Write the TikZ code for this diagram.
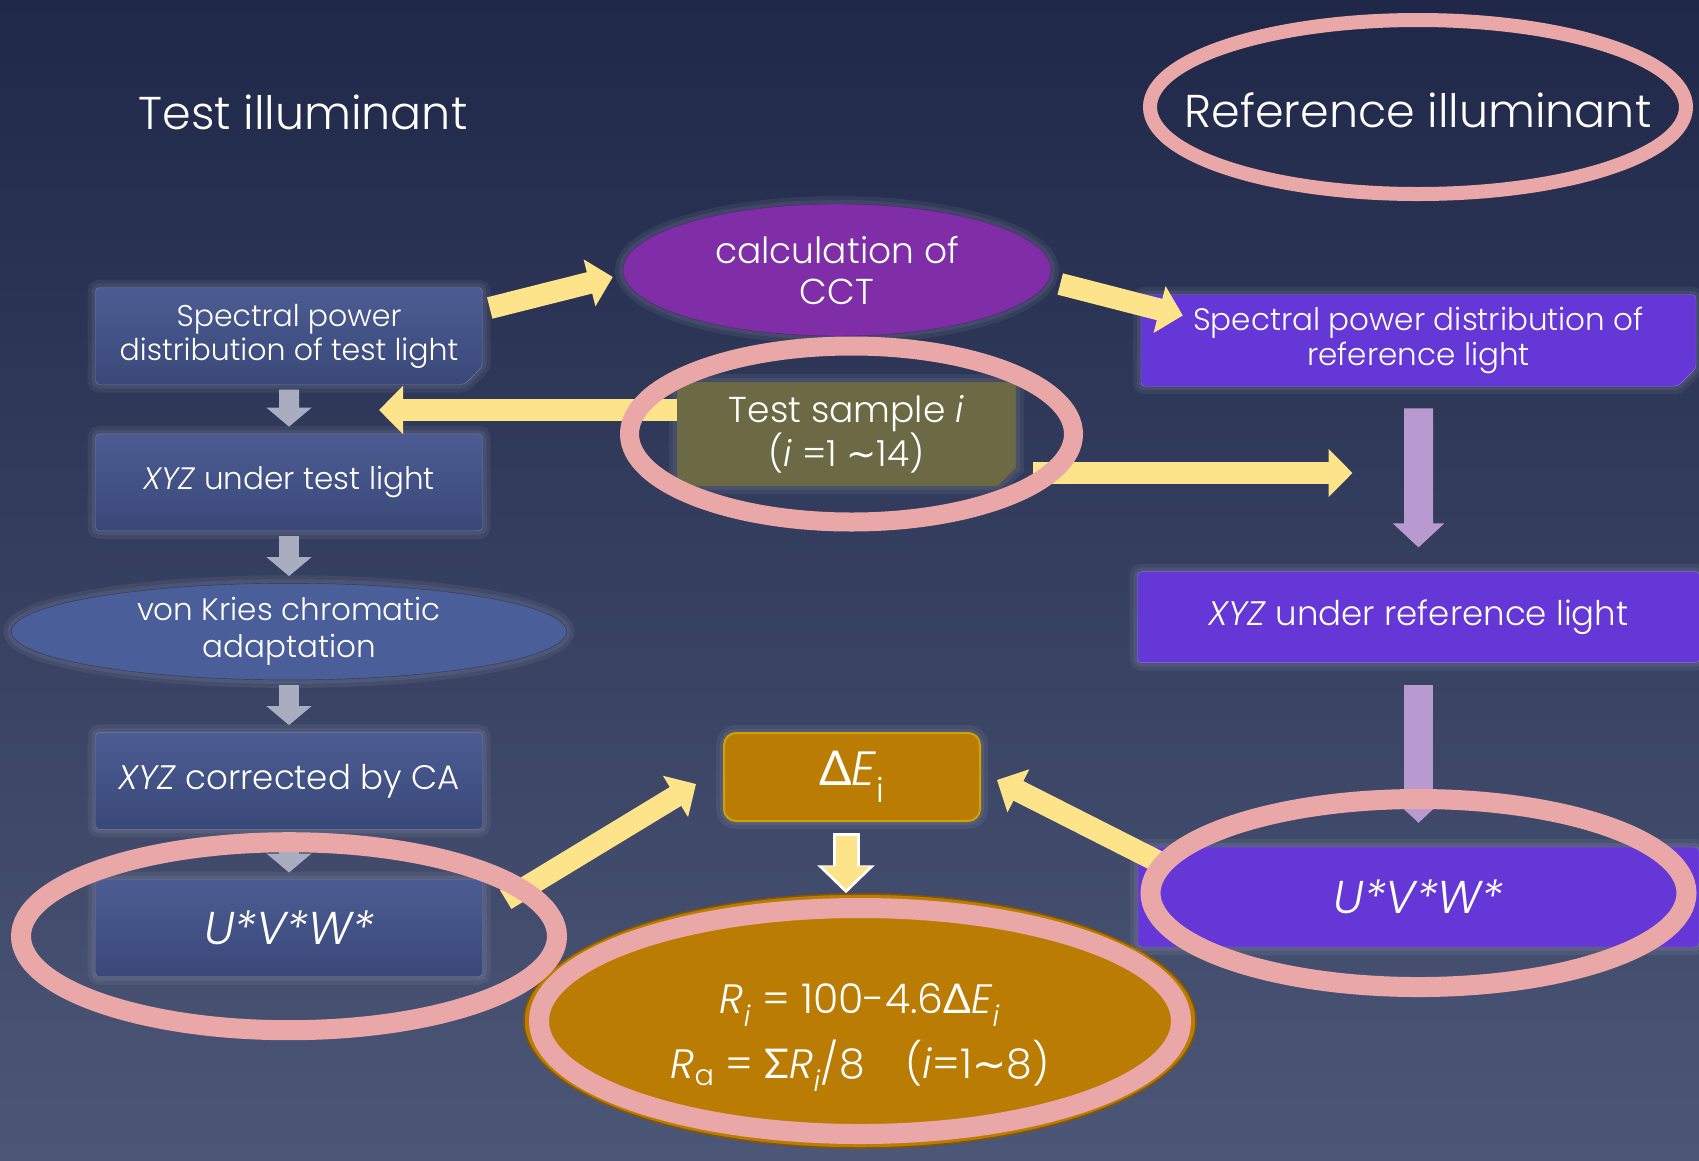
\documentclass[tikz,border=0pt]{standalone}
\usepackage{fontspec}
\setmainfont{Poppins}[UprightFont=* Light, ItalicFont=* Light Italic]
\newfontfamily\grk{Lato}
\newfontfamily\symf{DejaVu Sans}
\usepackage{xcolor}
\usepackage{tikz}
\usetikzlibrary{arrows.meta,positioning,shapes.geometric,shapes.misc,calc}
\definecolor{bgtop}{HTML}{1F2849}
\definecolor{bgbot}{HTML}{4C5676}
\definecolor{lboxtop}{HTML}{4C5C93}
\definecolor{lboxbot}{HTML}{3A4878}
\definecolor{lboxedge}{HTML}{6F7DAA}
\definecolor{refbox}{HTML}{6437D6}
\definecolor{refedge}{HTML}{8E70E2}
\definecolor{olive}{HTML}{6B6A45}
\definecolor{cctfill}{HTML}{7F2EA8}
\definecolor{vkfill}{HTML}{4A5E9A}
\definecolor{orng}{HTML}{BB7C04}
\definecolor{ringpink}{HTML}{E9A7A7}
\definecolor{yel}{HTML}{FDE38A}
\definecolor{garr}{HTML}{A8ADC0}
\definecolor{parr}{HTML}{B99AD0}
\tikzset{
  title/.style={text=white, font=\fontsize{46}{52}\selectfont},
  txt/.style={text=white, align=center, font=\fontsize{31}{34}\selectfont},
  big/.style={font=\fontsize{46}{50}\selectfont},
  glow/.style={preaction={draw=white, draw opacity=.06, line width=16pt}, preaction={draw=white, draw opacity=.06, line width=8pt}},
  fold/.style={chamfered rectangle, chamfered rectangle corners=south east, chamfered rectangle xsep=9pt, chamfered rectangle ysep=9pt},
  lbox/.style={txt, glow, rectangle, rounded corners=4pt, draw=lboxedge, top color=lboxtop, bottom color=lboxbot, minimum width=387pt, minimum height=97pt},
  rbox/.style={txt, glow, rectangle, rounded corners=4pt, draw=refedge, fill=refbox},
  sbox/.style={txt, glow, draw=olive!80!black, fill=olive, minimum width=339pt, minimum height=104pt, font=\fontsize{36}{42}\selectfont},
  lell/.style={txt, glow, ellipse, draw=vkfill!60!black, fill=vkfill, minimum width=555pt, minimum height=92pt, inner sep=0pt, font=\fontsize{31}{37}\selectfont},
  cctell/.style={txt, glow, ellipse, draw=cctfill!70!black, fill=cctfill, minimum width=428pt, minimum height=132pt, inner sep=0pt, font=\fontsize{36}{41}\selectfont},
  dbox/.style={txt, glow, rectangle, rounded corners=12pt, draw=orng!70!yellow, line width=2pt, fill=orng, minimum width=256pt, minimum height=88pt, font=\fontsize{48}{50}\selectfont},
  rfell/.style={txt, ellipse, draw=orng!70!black, line width=1.5pt, fill=orng, minimum width=672pt, minimum height=254pt, inner sep=0pt, text height=127pt, font=\fontsize{41}{65}\selectfont},
  ring/.style={draw=ringpink, line width=20pt},
  gline/.style={draw=garr, line width=20pt, -{Triangle[width=44pt,length=19pt]}, shorten <=5pt, shorten >=7pt},
  pline/.style={draw=parr, line width=29pt, -{Triangle[width=50pt,length=24pt]}, shorten <=22pt, shorten >=24pt},
  yline/.style={draw=yel, line width=22pt, -{Triangle[width=47pt,length=24pt]}},
  wline/.style={draw=white, line width=27pt, -{Triangle[width=56pt,length=28pt]}, shorten <=11pt}
}

\begin{document}
\begin{tikzpicture}[x=1pt, y=-1pt]
  \shade[top color=bgtop, bottom color=bgbot] (0,0) rectangle (1699,1160);
  \useasboundingbox (0,0) rectangle (1699,1160);

  % titles
  \node[title] (ttest) at (303,112) {Test illuminant};
  \node[title] (tref) at (1418,110) {Reference illuminant};

  % test light column
  \node[lbox, fold, font=\fontsize{30}{34}\selectfont] (spdt) at (289,336) {Spectral power\\distribution of test light};
  \node[lbox, below=49pt of spdt] (xyzt) {\textit{XYZ} under test light};
  \node[lell, below=52pt of xyzt] (vk) {von Kries chromatic\\adaptation};
  \node[lbox, below=52pt of vk, font=\fontsize{34}{36}\selectfont] (xyzca) {\textit{XYZ} corrected by CA};
  \node[lbox, big, below=50pt of xyzca] (uvwt) {\textit{U*V*W*}};

  % middle
  \node[cctell] (cct) at (837,270) {calculation of\\CCT};
  \node[sbox, fold] (test) at (846.5,434) {Test sample \textit{i}\\(\textit{i} =1 {\symf ∼}14)};
  \node[dbox] (de) at (852,777) {{\grk Δ}\textit{E}\textsubscript{i}};
  \node[rfell] (rf) at (860,1021) {\textit{R}\textsubscript{\textit{i}} = 100-4.6{\grk Δ}\textit{E}\textsubscript{\textit{i}}\\
    \textit{R}\textsubscript{a} = {\grk Σ}\textit{R}\textsubscript{\textit{i}}/8\quad(\textit{i}=1{\symf ∼}8)};

  % reference light column
  \node[rbox, fold, minimum width=555pt, minimum height=89pt, font=\fontsize{31}{35}\selectfont] (spdr) at (1418.5,340.5) {Spectral power distribution of\\reference light};
  \node[rbox, below=185pt of spdr, minimum width=562pt, minimum height=91pt, font=\fontsize{34}{36}\selectfont] (xyzr) {\textit{XYZ} under reference light};
  \node[rbox, big, below=184pt of xyzr, minimum width=561pt, minimum height=100pt] (uvwr) {\textit{U*V*W*}};

  % block arrows
  \draw[gline] (spdt) -- (xyzt);
  \draw[gline] (xyzt) -- (vk);
  \draw[gline] (vk) -- (xyzca);
  \draw[gline] (xyzca) -- (uvwt);
  \draw[pline] (spdr) -- (xyzr);
  \draw[pline] (xyzr) -- (uvwr);

  % yellow arrows
  \coordinate (gapl) at ($(spdt.south)!.5!(xyzt.north)$);
  \coordinate (gapr) at ($(spdr.south)!.5!(xyzr.north)$);
  \draw[yline] ([xshift=7pt,yshift=28pt]spdt.east) -- ([xshift=-10pt,yshift=-7pt]cct.west);
  \draw[yline] ([xshift=9pt,yshift=-14pt]cct.east) -- ([xshift=42pt,yshift=25pt]spdr.west);
  \coordinate (t3) at ([yshift=24pt]test.west);
  \coordinate (h3) at ([xshift=90pt]gapl);
  \draw[yline] (t3) -- (t3 -| h3);
  \coordinate (t4) at ([xshift=17pt,yshift=-39pt]test.east);
  \coordinate (h4) at ([xshift=-66pt]gapr);
  \draw[yline] (t4) -- (t4 -| h4);
  \draw[yline] ([xshift=23pt,yshift=-20pt]uvwt.north east) -- ([xshift=-27pt,yshift=-7pt]de.west);
  \draw[yline] ([xshift=27pt,yshift=32pt]uvwr.west) -- ([xshift=16pt,yshift=-3pt]de.east);
  \coordinate (t7) at ([xshift=-6pt]de.south);
  \draw[wline] (t7) -- (t7 |- rf.north);
  \draw[yline, line width=21pt, -{Triangle[width=46pt,length=23pt]}, shorten <=14pt, shorten >=4pt] (t7) -- (t7 |- rf.north);

  % highlight rings
  \draw[ring, line width=14pt] ([yshift=3pt]tref.center) ellipse (268pt and 87pt);
  \draw[ring, line width=19pt] ([xshift=5pt]test.center) ellipse (222pt and 88pt);
  \draw[ring] ([yshift=-8pt]uvwt.center) ellipse (268pt and 94pt);
  \draw[ring] ([yshift=4pt]uvwr.center) ellipse (268pt and 94pt);
  \draw[ring] (rf.center) ellipse (321pt and 113pt);
\end{tikzpicture}
\end{document}
